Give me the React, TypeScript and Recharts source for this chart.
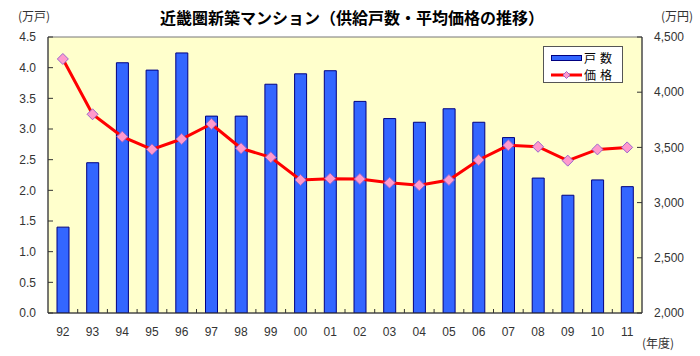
import React from "react";
import {
  ComposedChart,
  Bar,
  Line,
  XAxis,
  YAxis,
  ReferenceArea,
  Legend,
} from "recharts";

// fiscal years (年度)
const years = [
  "92", "93", "94", "95", "96", "97", "98", "99", "00", "01",
  "02", "03", "04", "05", "06", "07", "08", "09", "10", "11",
];
// supply, 万戸
const units = [
  1.4, 2.45, 4.08, 3.96, 4.24, 3.21, 3.21, 3.73, 3.9, 3.95,
  3.45, 3.17, 3.11, 3.33, 3.11, 2.86, 2.2, 1.92, 2.17, 2.06,
];
// average price, 万円
const prices = [
  4301, 3800, 3597, 3482, 3576, 3712, 3492, 3410, 3205, 3217,
  3214, 3180, 3157, 3205, 3386, 3519, 3506, 3380, 3482, 3500,
];
const unitTicks = [0, 0.5, 1, 1.5, 2, 2.5, 3, 3.5, 4, 4.5];
const priceTicks = [2000, 2500, 3000, 3500, 4000, 4500];

const data = years.map((y, i) => ({ year: y, units: units[i], price: prices[i] }));

const FONT = '"Liberation Sans", "Noto Sans CJK JP", sans-serif';
const JP = '"Noto Sans CJK JP", sans-serif';
const AXIS = "#333";

function Diamond(props: any) {
  const { cx, cy } = props;
  if (cx == null || cy == null) return null;
  const r = 5.5;
  return (
    <path
      d={`M${cx},${cy - r}L${cx + r},${cy}L${cx},${cy + r}L${cx - r},${cy}Z`}
      fill="#FF9ACD"
      stroke="#9966CC"
      strokeWidth={1}
    />
  );
}

// category label plus Excel-style tick between categories
function YearTick(props: any) {
  const { x, y, payload, index } = props;
  const off = payload && payload.offset ? payload.offset : 14.85;
  const axisY = y - 13;
  return (
    <g>
      {index > 0 && (
        <line x1={x - off} x2={x - off} y1={axisY} y2={axisY - 4} stroke={AXIS} />
      )}
      <text
        x={x}
        y={y}
        dy="0.85em"
        textAnchor="middle"
        fill={AXIS}
        fontSize={12}
        fontFamily={FONT}
      >
        {payload.value}
      </text>
    </g>
  );
}

function LegendBox() {
  const label = { fontFamily: JP, fontSize: 12, color: "#000", lineHeight: "14px", marginLeft: 4, letterSpacing: 4 };
  return (
    <div
      style={{
        width: 78,
        height: 35,
        border: "1px solid #555",
        background: "#fff",
        boxSizing: "content-box",
      }}
    >
      <div style={{ display: "flex", alignItems: "center", height: 17, marginTop: 2 }}>
        <svg width={40} height={10} style={{ marginLeft: 6 }}>
          <rect x={1.5} y={2.5} width={30} height={5} fill="#3366FF" stroke="#000080" />
        </svg>
        <span style={{ ...label, marginLeft: -6 }}>戸数</span>
      </div>
      <div style={{ display: "flex", alignItems: "center", height: 17 }}>
        <svg width={40} height={10} style={{ marginLeft: 6 }}>
          <line x1={1} x2={32} y1={5} y2={5} stroke="#FF0000" strokeWidth={3} />
          <path d="M16.5,1.5L20,5L16.5,8.5L13,5Z" fill="#FF9ACD" stroke="#9966CC" />
        </svg>
        <span style={{ ...label, marginLeft: -6 }}>価格</span>
      </div>
    </div>
  );
}

const overlay = (extra: React.CSSProperties): React.CSSProperties => ({
  position: "absolute",
  fontFamily: JP,
  fontSize: 12,
  color: AXIS,
  whiteSpace: "nowrap",
  lineHeight: "14px",
  ...extra,
});

export default function App() {
  return (
    <div style={{ position: "absolute", left: 0, top: 0, width: 700, height: 356, background: "#fff" }}>
      <div
        style={{
          position: "absolute",
          left: 0,
          width: 704,
          top: 7,
          textAlign: "center",
          fontFamily: JP,
          fontWeight: "bold",
          fontSize: 16,
          lineHeight: "20px",
          color: "#000",
        }}
      >
        近畿圏新築マンション（供給戸数・平均価格の推移）
      </div>
      <div style={overlay({ left: 18, top: 9 })}>(万戸)</div>
      <div style={overlay({ left: 661, top: 9 })}>(万円)</div>
      <div style={overlay({ left: 642, top: 336 })}>(年度)</div>

      <ComposedChart
        width={700}
        height={356}
        data={data}
        margin={{ top: 37, right: 0, bottom: 0, left: 0 }}
        barCategoryGap={0}
      >
        <XAxis
          dataKey="year"
          height={43}
          axisLine={{ stroke: AXIS }}
          tickLine={false}
          tickSize={0}
          tickMargin={13}
          interval={0}
          tick={<YearTick />}
        />
        <YAxis
          yAxisId="left"
          orientation="left"
          width={48}
          domain={[0, 4.5]}
          ticks={unitTicks}
          allowDataOverflow
          tickFormatter={(v: number) => v.toFixed(1)}
          tick={{ fill: AXIS, fontSize: 12, fontFamily: FONT }}
          axisLine={{ stroke: AXIS }}
          tickLine={{ stroke: AXIS }}
          tickSize={-5}
          tickMargin={17}
        />
        <YAxis
          yAxisId="right"
          orientation="right"
          width={58}
          domain={[2000, 4500]}
          ticks={priceTicks}
          allowDataOverflow
          tickFormatter={(v: number) => v.toLocaleString("en-US")}
          tick={{ fill: AXIS, fontSize: 12, fontFamily: FONT, textAnchor: "start" }}
          axisLine={{ stroke: AXIS }}
          tickLine={{ stroke: AXIS }}
          tickSize={-5}
          tickMargin={17}
        />
        <ReferenceArea
          yAxisId="left"
          y1={0}
          y2={4.5}
          fill="#FFFFCC"
          fillOpacity={1}
          stroke="#777"
          strokeWidth={1}
        />
        <Legend
          layout="vertical"
          align="center"
          verticalAlign="middle"
          wrapperStyle={{ left: 543, top: 46, width: 80, height: 37 }}
          content={() => <LegendBox />}
        />
        <Bar
          yAxisId="left"
          dataKey="units"
          name="戸数"
          barSize={12}
          fill="#3366FF"
          stroke="#000080"
          strokeWidth={1}
          isAnimationActive={false}
        />
        <Line
          yAxisId="right"
          dataKey="price"
          name="価格"
          type="linear"
          stroke="#FF0000"
          strokeWidth={3}
          dot={(p: any) => <Diamond key={p.index} {...p} />}
          activeDot={false}
          isAnimationActive={false}
        />
      </ComposedChart>
    </div>
  );
}
